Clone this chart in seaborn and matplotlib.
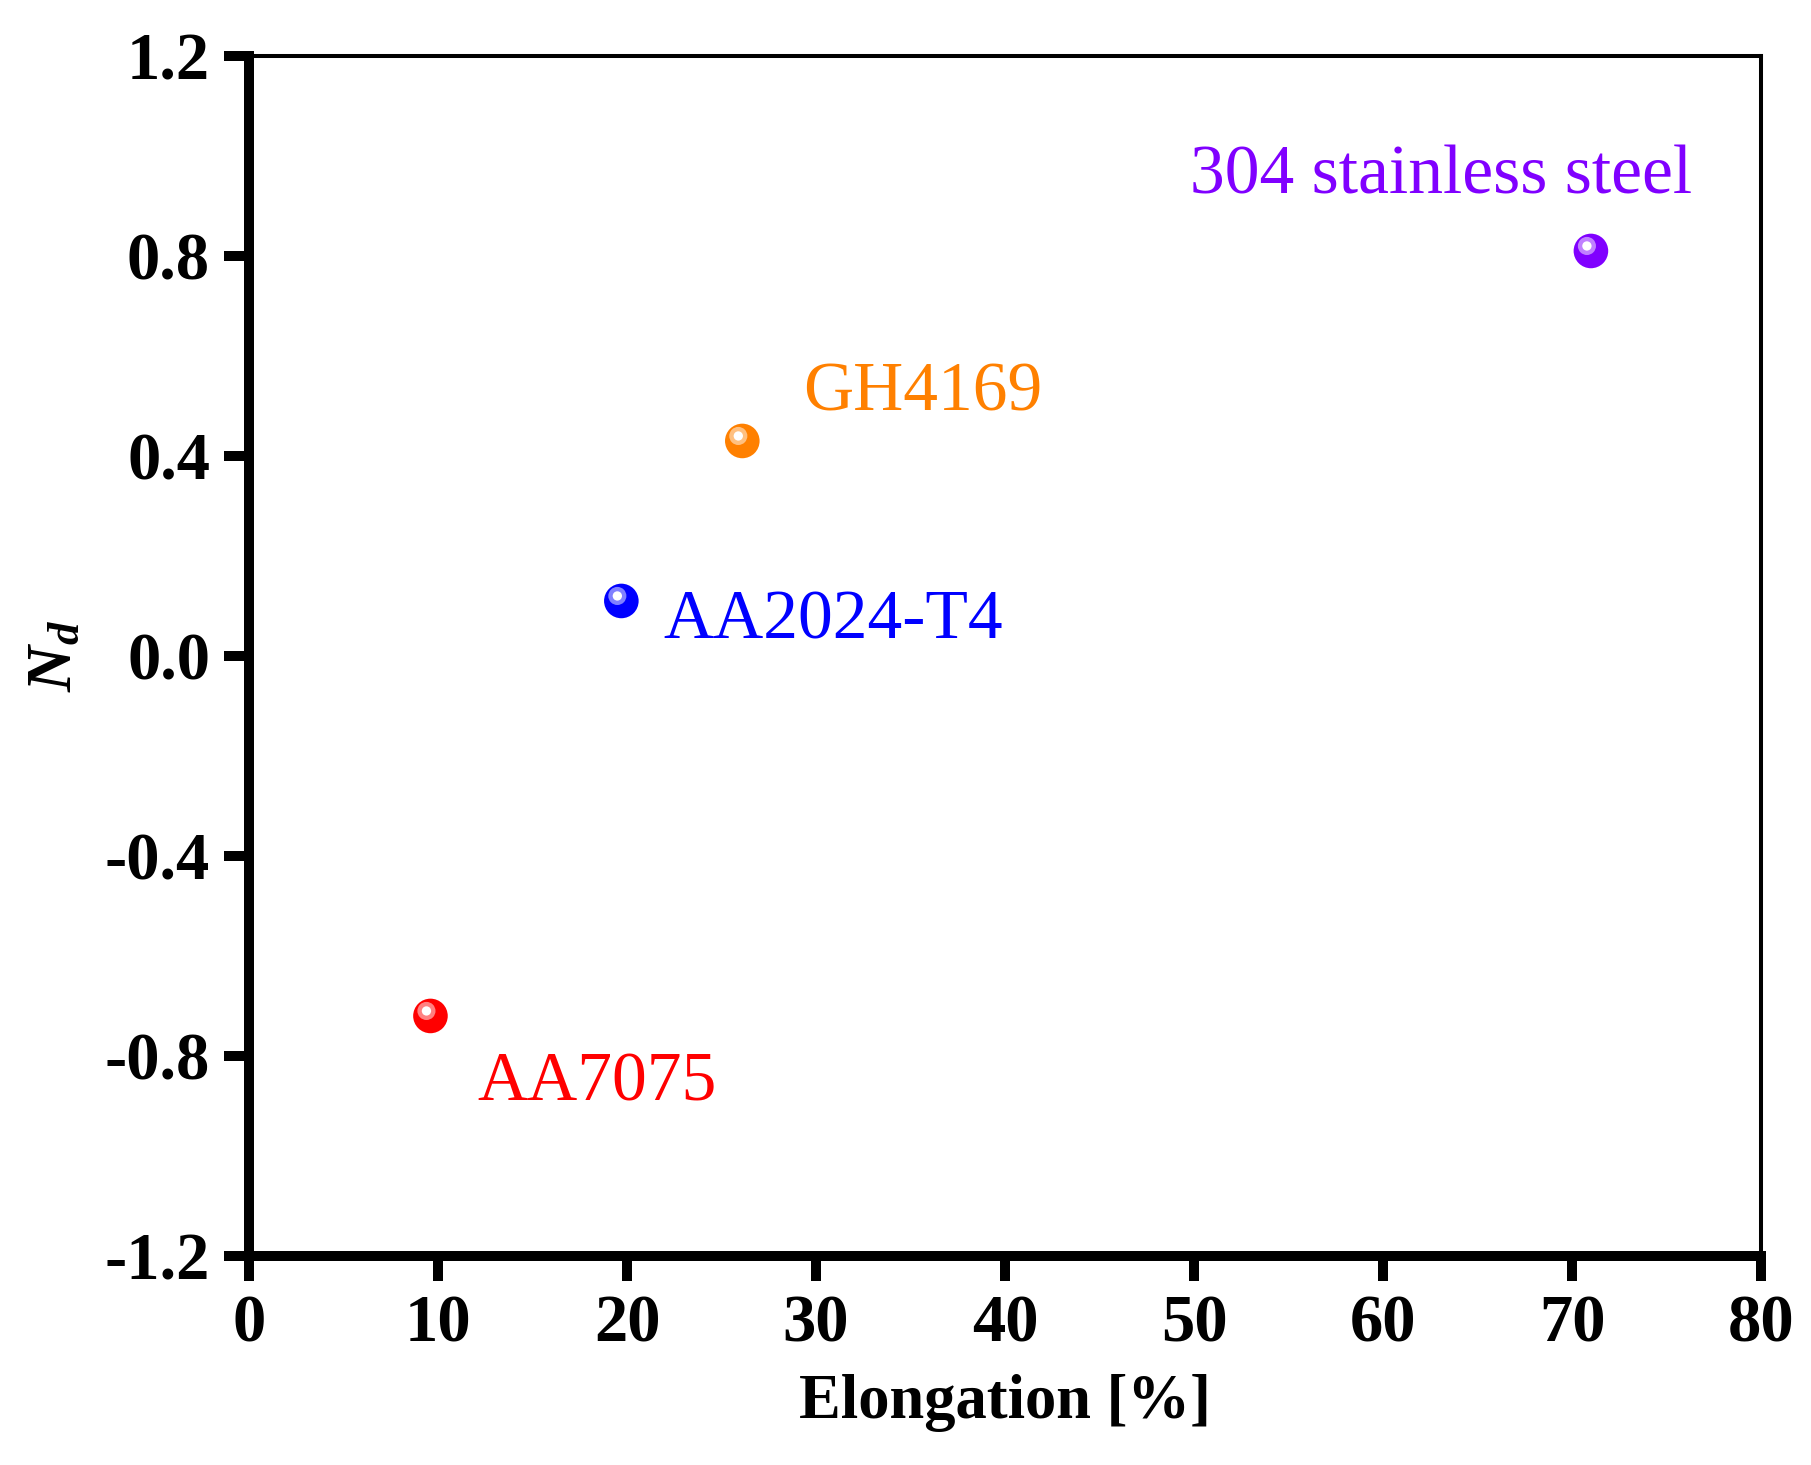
import numpy as np
import pandas as pd
import matplotlib
matplotlib.use("Agg")
import matplotlib.pyplot as plt
import matplotlib.transforms as mtransforms
from matplotlib.colors import to_rgb
import seaborn as sns

# data
materials = ["AA7075", "AA2024-T4", "GH4169", "304 stainless steel"]
elongation = [9.6, 19.7, 26.1, 71.0]
nd = [-0.72, 0.11, 0.43, 0.81]
colors = ["#FF0000", "#0000FF", "#FF8000", "#8000FF"]
label_x = [12.1, 21.9, 29.3, 49.8]
label_y = [-0.89, 0.034, 0.49, 0.924]

df = pd.DataFrame({"material": materials, "elongation": elongation, "nd": nd})
palette = dict(zip(materials, colors))

sns.set_style("white")
plt.rcParams["font.family"] = ["Liberation Serif", "DejaVu Serif"]
plt.rcParams["text.color"] = "black"
plt.rcParams["axes.labelcolor"] = "black"
plt.rcParams["xtick.color"] = "black"
plt.rcParams["ytick.color"] = "black"
plt.rcParams["mathtext.fontset"] = "custom"
plt.rcParams["mathtext.rm"] = "Liberation Serif"
plt.rcParams["mathtext.it"] = "Liberation Serif:italic"
plt.rcParams["mathtext.bf"] = "Liberation Serif:bold"
plt.rcParams["mathtext.bfit"] = "Liberation Serif:italic:bold"

fig = plt.figure(figsize=(18.11, 14.65), dpi=100)
ax = fig.add_axes([0.1375, 0.1427, 0.9724 - 0.1375, 0.9618 - 0.1427])

sns.scatterplot(data=df, x="elongation", y="nd", hue="material", palette=palette,
                s=620, edgecolor="none", legend=False, ax=ax, zorder=3)

# shiny highlight on each ball
shift = mtransforms.offset_copy(ax.transData, fig=fig, x=-4, y=5, units="dots")
light = [tuple(0.5 * np.array(to_rgb(c)) + 0.5) for c in colors]
ax.scatter(elongation, nd, s=170, c=light, edgecolors="none", transform=shift, zorder=4)
ax.scatter(elongation, nd, s=45, c="white", edgecolors="none", transform=shift, zorder=5)

for name, lx, ly, c in zip(materials, label_x, label_y, colors):
    ax.text(lx, ly, name, color=c, fontsize=50, ha="left", va="baseline")

ax.set_xlim(0, 80)
ax.set_ylim(-1.2, 1.2)
ax.set_xticks(np.arange(0, 81, 10))
ax.set_yticks([-1.2, -0.8, -0.4, 0.0, 0.4, 0.8, 1.2])
ax.set_yticklabels(["-1.2", "-0.8", "-0.4", "0.0", "0.4", "0.8", "1.2"])

for side in ["left", "bottom"]:
    ax.spines[side].set_linewidth(7.2)
for side in ["top", "right"]:
    ax.spines[side].set_linewidth(2.9)
for sp in ax.spines.values():
    sp.set_color("black")

ax.tick_params(axis="both", direction="out", length=18, width=7.2, color="black",
               labelsize=48, bottom=True, left=True)
ax.tick_params(axis="x", pad=10)
ax.tick_params(axis="y", pad=10)
for lab in ax.get_xticklabels() + ax.get_yticklabels():
    lab.set_fontweight("bold")

ax.set_xlabel("Elongation [%]", fontsize=45, fontweight="bold", labelpad=13)
ax.set_ylabel(r"$\mathbfit{N_d}$", fontsize=46, labelpad=14)

fig.savefig("out.png", dpi=100)
